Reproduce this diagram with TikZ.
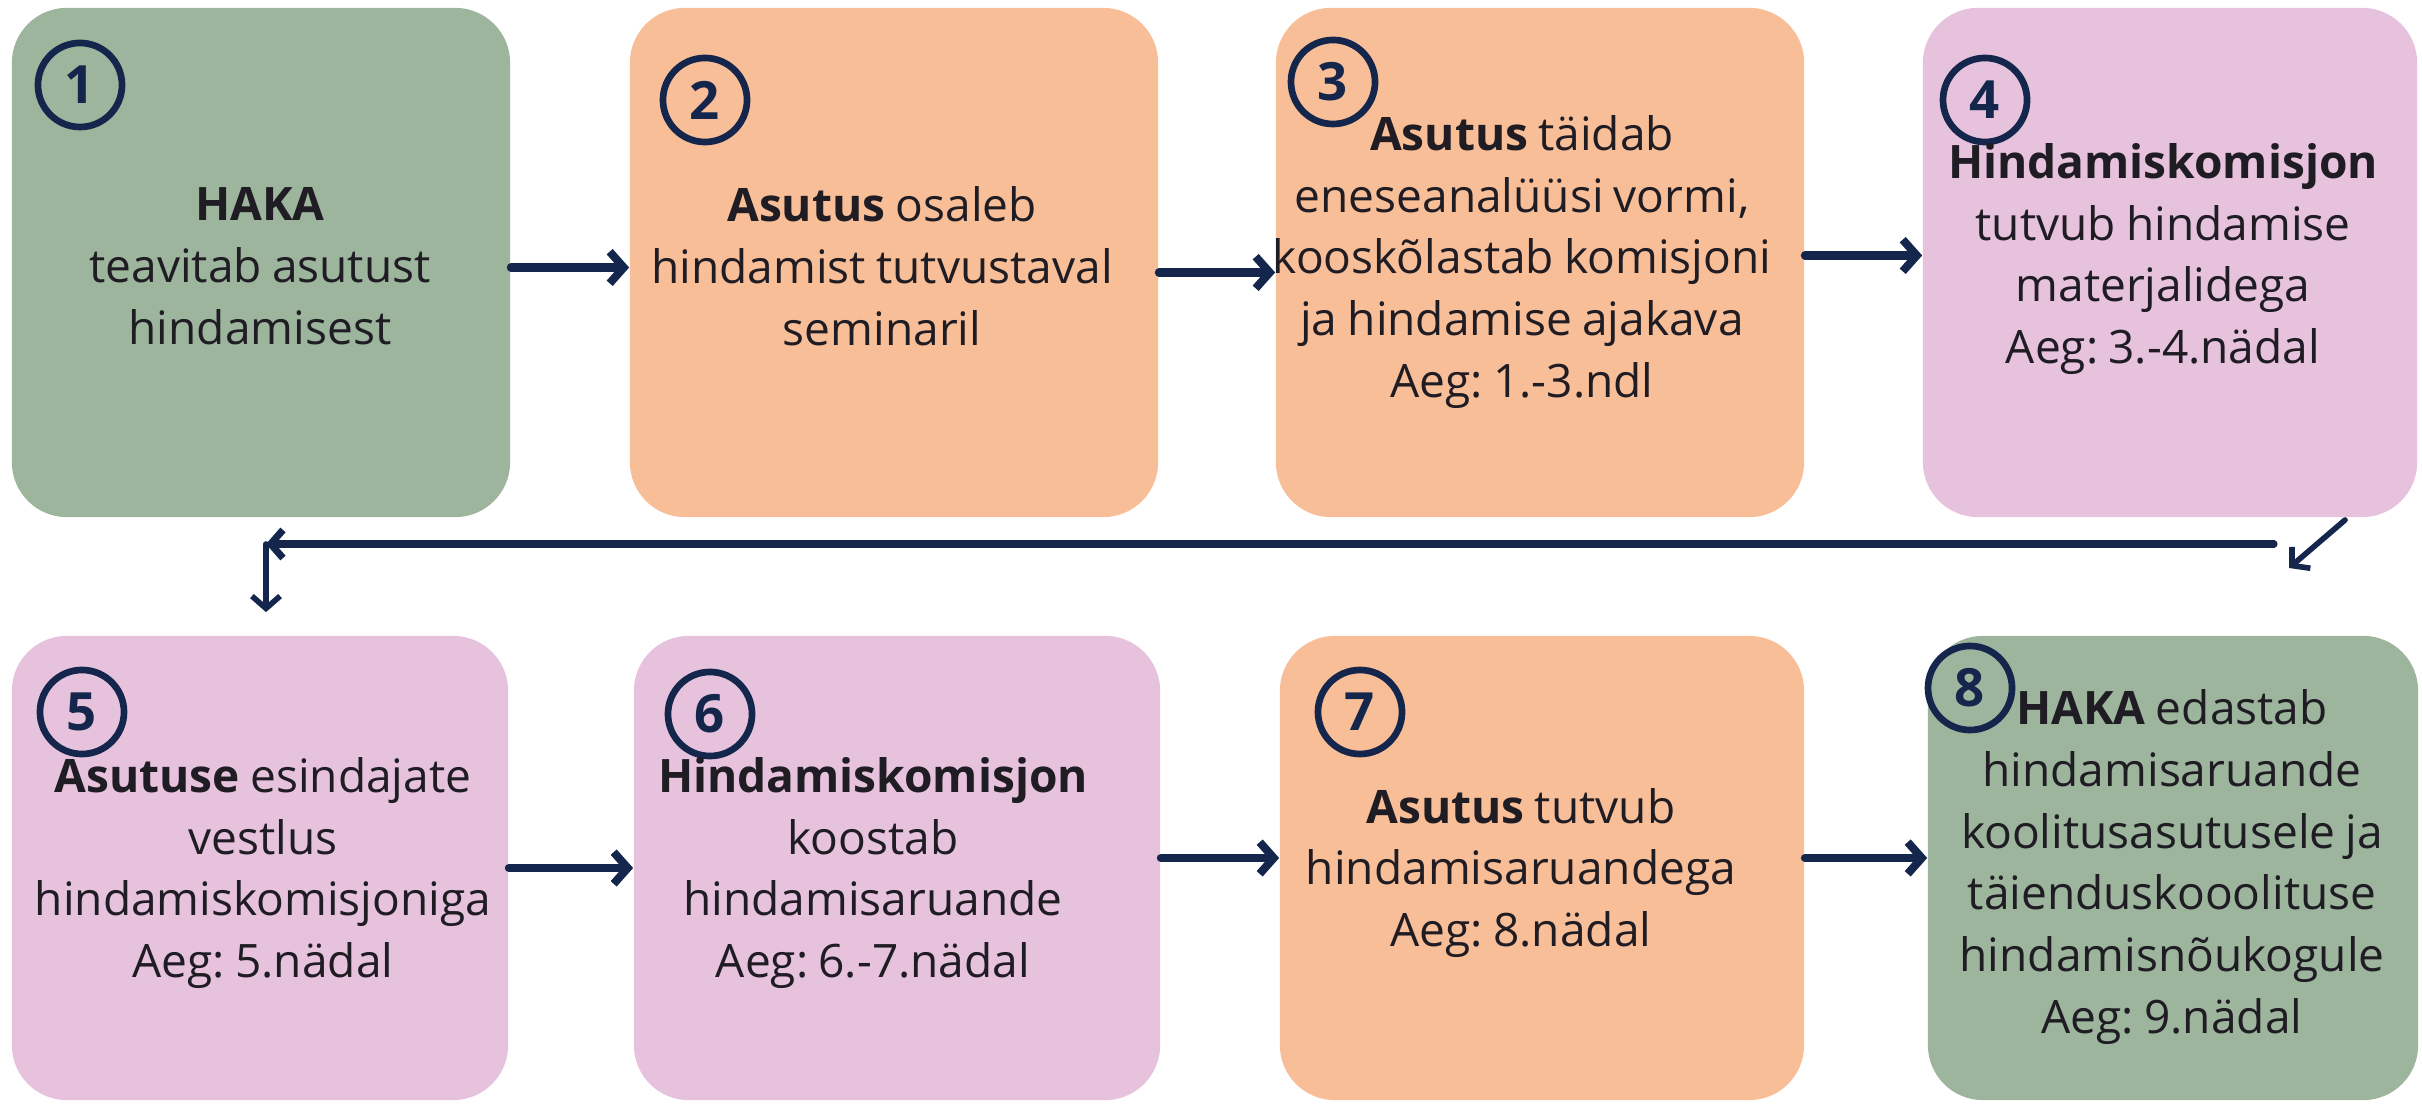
\documentclass[tikz,border=0pt]{standalone}
\usepackage{fontspec}
\setmainfont{Open Sans}[WordSpace=0.85]
\usepackage{tikz}
\usetikzlibrary{arrows.meta, positioning}
\frenchspacing

\definecolor{sage}{HTML}{9CB59C}
\definecolor{peach}{HTML}{F8BE98}
\definecolor{lilac}{HTML}{E6C2DC}
\definecolor{navy}{HTML}{15264C}
\definecolor{ink}{HTML}{1F1C24}

\begin{document}
\begin{tikzpicture}[x=0.01cm, y=0.01cm,
    stepbox/.style={rounded corners=0.55cm, inner sep=0pt},
    toprow/.style={stepbox, minimum height=5.09cm},
    botrow/.style={stepbox, minimum height=4.64cm},
    numring/.style={circle, draw=navy, line width=1.9pt, minimum size=0.84cm,
      inner sep=0pt, text=navy, font=\fontsize{15pt}{15pt}\selectfont\bfseries},
    boxtext/.style={align=center, text=ink,
      font=\fontsize{13.1pt}{17.6pt}\selectfont},
    flow/.style={-{Straight Barb[length=4pt,width=9pt]}, line width=2.3pt,
      navy, line cap=round},
    backflow/.style={-{Straight Barb[length=3.5pt,width=8pt]}, line width=1.6pt,
      navy, line cap=round} ]

    \useasboundingbox (0,0) rectangle (2422,1106);

    % Step boxes, first row
    \node[toprow, fill=sage, minimum width=4.98cm] (b1) at (261,843.5) {};
    \node[toprow, fill=peach, minimum width=5.28cm] (b2) at (894,843.5) {};
    \node[toprow, fill=peach, minimum width=5.28cm] (b3) at (1540,843.5) {};
    \node[toprow, fill=lilac, minimum width=4.94cm] (b4) at (2170,843.5) {};

    % Step boxes, second row
    \node[botrow, fill=lilac, minimum width=4.96cm] (b5) at (260,238) {};
    \node[botrow, fill=lilac, minimum width=5.26cm] (b6) at (897,238) {};
    \node[botrow, fill=peach, minimum width=5.24cm] (b7) at (1542,238) {};
    \node[botrow, fill=sage, minimum width=4.90cm] (b8) at (2173,238) {};

    % Numbers
    \node[numring] (c1) at (80,1021) {1}; \node[numring] (c2) at (705,1006) {2};
    \node[numring] (c3) at (1333,1024) {3}; \node[numring] (c4) at (1985,1006) {4};
    \node[numring] (c5) at (82,394) {5}; \node[numring] (c6) at (710,392) {6};
    \node[numring] (c7) at (1360,394) {7}; \node[numring] (c8) at (1970,418) {8};

    % Texts inside boxes
    \node[boxtext] (t1) at (260,840) {\textbf{HAKA}\\teavitab asutust\\hindamisest};
    \node[boxtext] (t2) at (882,840) {\textbf{Asutus} osaleb\\hindamist
    tutvustaval\\seminaril};
    \node[boxtext] (t3) at (1522,844) {\textbf{Asutus} täidab\\eneseanalüüsi
    vormi,\\kooskõlastab komisjoni\\ja hindamise ajakava\\Aeg: 1.-3.ndl};
    \node[boxtext] (t4) at (2163,847) {\textbf{Hindamiskomisjon}\\tutvub
    hindamise\\materjalidega\\Aeg: 3.-4.nädal};
    \node[boxtext] (t5) at (263,233) {\textbf{Asutuse} esindajate\\vestlus\\
    hindamiskomisjoniga\\Aeg: 5.nädal};
    \node[boxtext] (t6) at (873,233) {\textbf{Hindamiskomisjon}\\koostab\\
    hindamisaruande\\Aeg: 6.-7.nädal};
    \node[boxtext] (t7) at (1521,233) {\textbf{Asutus} tutvub\\
    hindamisaruandega\\Aeg: 8.nädal};
    \node[boxtext] (t8) at (2172,239) {\textbf{HAKA} edastab\\hindamisaruande\\
    koolitusasutusele ja\\täienduskooolituse\\hindamisnõukogule\\Aeg: 9.nädal};

    % Arrows between steps
    \draw[flow] ([yshift=-0.05cm]b1.east) -- ([yshift=-0.05cm]b2.west);
    \draw[flow] ([yshift=-0.1cm]b2.east) -- ([yshift=-0.1cm]b3.west);
    \draw[flow] ([yshift=0.07cm]b3.east) -- ([yshift=0.07cm]b4.west);
    \draw[flow] (b5.east) -- (b6.west);
    \draw[flow] ([yshift=0.1cm]b6.east) -- ([yshift=0.1cm]b7.west);
    \draw[flow] ([yshift=0.1cm]b7.east) -- ([yshift=0.1cm]b8.west);

    % Return to second row
    \coordinate (d1) at (2345,586); \coordinate (d2) at (2289,538);
    \coordinate (r1) at (2274,562); \coordinate (r2) at (266,562);
    \draw[backflow] (d1) -- (d2);
    \draw[backflow, line width=2pt] (r1) -- (r2);
    \draw[backflow, shorten >=0.23cm] (r2) -- (r2 |- b5.north);

\end{tikzpicture}
\end{document}
